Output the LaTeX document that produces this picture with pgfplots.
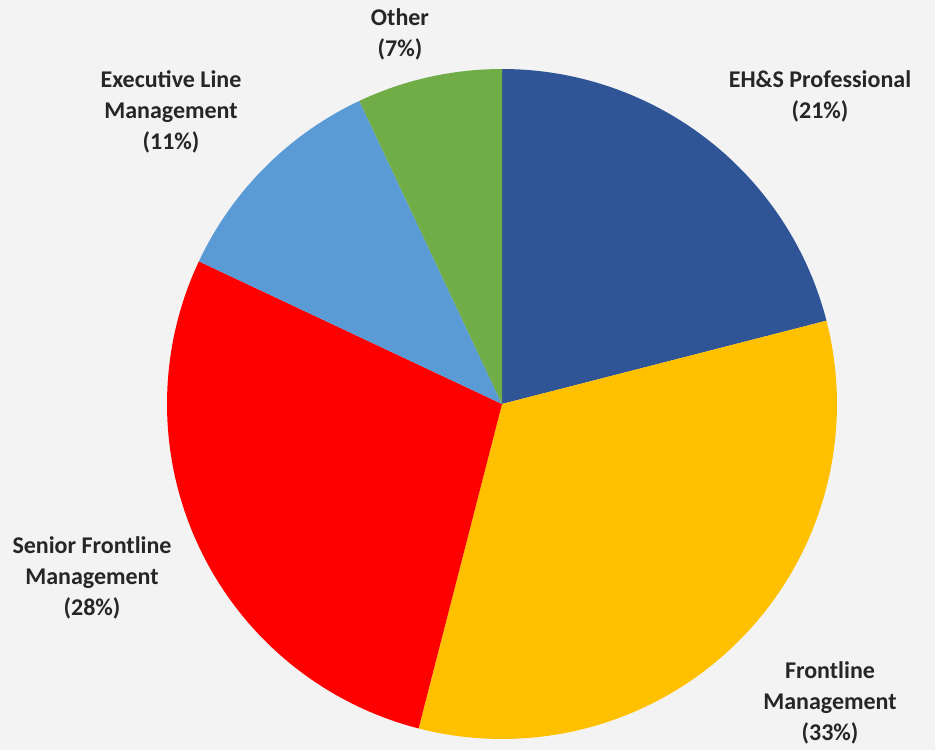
\documentclass[border=0pt]{standalone}
\usepackage{pgfplots}
\pgfplotsset{compat=1.18}
\usepackage{pgfplotstable}
\usepackage{fontspec}
\setmainfont{Carlito}
\definecolor{bgc}{HTML}{F3F3F3}
\definecolor{txt}{HTML}{262626}
\definecolor{c1}{HTML}{2F5597}
\definecolor{c2}{HTML}{FFC000}
\definecolor{c3}{HTML}{FF0000}
\definecolor{c4}{HTML}{5B9BD5}
\definecolor{c5}{HTML}{70AD47}
\newcommand{\slice}[3]{%
  \pgfmathsetmacro\angB{90-3.6*(#1)}%
  \pgfmathsetmacro\angA{90-3.6*(#1+#2)}%
  \addplot[fill=#3, draw=none, domain=\angA:\angB, samples=100, variable=\t]
    ({502+335*cos(t)},{346+335*sin(t)}) -- (axis cs:502,346) -- cycle;
}
\begin{document}
\begin{tikzpicture}
\useasboundingbox (0,0) rectangle (935pt,750pt);
\begin{axis}[
  at={(0,0)}, anchor=south west,
  scale only axis, width=935pt, height=750pt,
  xmin=0, xmax=935, ymin=0, ymax=750,
  hide axis, clip=false,
]
\fill[bgc] (axis cs:0,0) rectangle (axis cs:935,750);
% start (cumulative %), share (%), colour
\slice{0}{21}{c1}   % EH&S Professional
\slice{21}{33}{c2}  % Frontline Management
\slice{54}{28}{c3}  % Senior Frontline Management
\slice{82}{11}{c4}  % Executive Line Management
\slice{93}{7}{c5}   % Other
\begin{scope}[every node/.style={align=center, text=txt, font=\bfseries\fontsize{24}{31}\selectfont}]
\node at (axis cs:400,716) {Other\\(7\%)};
\node at (axis cs:171,638) {Executive Line\\Management\\(11\%)};
\node at (axis cs:820,654) {EH\&S Professional\\(21\%)};
\node at (axis cs:92,172) {Senior Frontline\\Management\\(28\%)};
\node at (axis cs:830,47) {Frontline\\Management\\(33\%)};
\end{scope}
\end{axis}
\end{tikzpicture}
\end{document}
